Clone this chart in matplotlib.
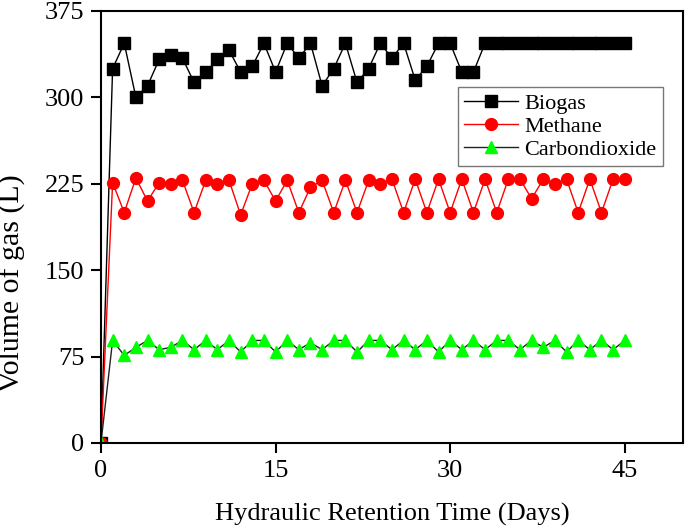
import matplotlib
matplotlib.use('Agg')
import matplotlib.pyplot as plt

plt.rcParams['font.family'] = ['Liberation Serif', 'DejaVu Serif']

days = list(range(46))
biogas = [0, 325, 347, 300, 310, 333, 337, 334, 313, 322, 333, 341, 322, 327, 347,
          322, 347, 334, 347, 310, 325, 347, 313, 325, 347, 334, 347, 315, 327, 347,
          347, 322, 322, 347, 347, 347, 347, 347, 347, 347, 347, 347, 347, 347, 347, 347]
methane = [0, 226, 200, 230, 210, 226, 225, 228, 200, 228, 225, 228, 198, 225, 228,
           210, 228, 200, 222, 228, 200, 228, 200, 228, 225, 229, 200, 229, 200, 229,
           200, 229, 200, 229, 200, 229, 229, 212, 229, 225, 229, 200, 229, 200, 229, 229]
co2 = [0, 89, 76, 83, 89, 81, 83, 89, 81, 89, 81, 89, 79, 89, 89,
       79, 89, 81, 87, 81, 89, 89, 79, 89, 89, 81, 89, 81, 89, 79,
       89, 81, 89, 81, 89, 89, 81, 89, 83, 89, 79, 89, 81, 89, 81, 89]

fig = plt.figure(figsize=(6.85, 5.3), dpi=100)
ax = fig.add_axes([0.1474, 0.1642, 0.8496, 0.8151])

ax.plot(days, biogas, color='black', lw=1, marker='s', ms=8.5, mfc='black', mec='black', label='Biogas')
ax.plot(days, methane, color='red', lw=1, marker='o', ms=8.5, mfc='red', mec='red', label='Methane')
ax.plot(days, co2, color='#222222', lw=1, marker='^', ms=9, mfc='#00ff00', mec='#00ff00', label='Carbondioxide')

ax.set_xlim(0, 50)
ax.set_ylim(0, 375)
ax.set_xticks([0, 15, 30, 45])
ax.set_yticks([0, 75, 150, 225, 300, 375])
ax.tick_params(direction='out', length=7, width=1.5, labelsize=19, pad=5)
for s in ax.spines.values():
    s.set_linewidth(1.5)

ax.set_xlabel('Hydraulic Retention Time (Days)', fontsize=19, labelpad=15)
ax.set_ylabel('Volume of gas (L)', fontsize=21.5)
ax.yaxis.set_label_coords(-0.128, 0.37)

leg = ax.legend(loc='upper left', bbox_to_anchor=(0.613, 0.824), fontsize=16,
                frameon=True, fancybox=False, handlelength=2.4, borderpad=0.3,
                labelspacing=0.1, handletextpad=0.3, borderaxespad=0)
leg.get_frame().set_edgecolor('#555555')
leg.get_frame().set_linewidth(1)

fig.savefig('out.png', dpi=100)
